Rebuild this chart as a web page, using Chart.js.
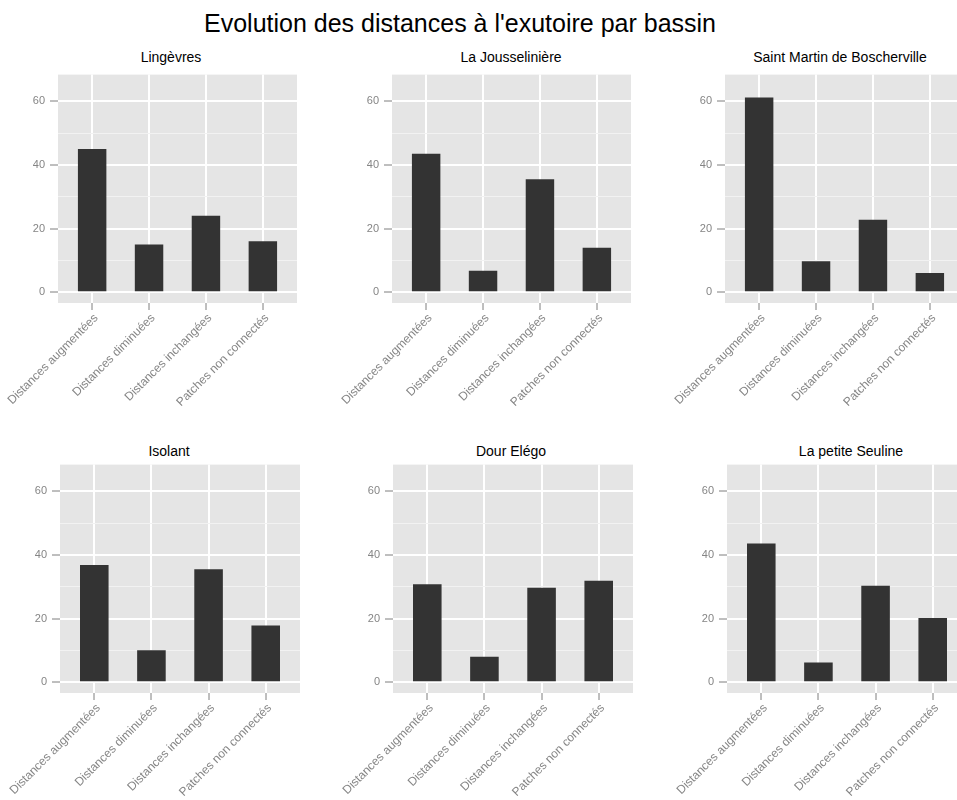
<!DOCTYPE html>
<html>
<head>
<meta charset="utf-8">
<script src="https://cdn.jsdelivr.net/npm/chart.js@4/dist/chart.umd.min.js"></script>
<style>
    body { margin: 0; width: 957px; height: 800px; overflow: hidden; background: #fff; position: relative; font-family: "Liberation Sans", Arial, sans-serif; }
    .main-title { position: absolute; top: 8px; left: 460px; transform: translateX(-50%); font-size: 25px; line-height: 30px; white-space: nowrap; color: #000; }
    .panel-title { position: absolute; transform: translateX(-50%); font-size: 14px; line-height: 16px; white-space: nowrap; color: #000; }
    canvas { position: absolute; }
</style>
</head>
<body>
<div class="main-title">Evolution des distances à l'exutoire par bassin</div>
<script>
// --- DATA ---
const categories = ['Distances augmentées', 'Distances diminuées', 'Distances inchangées', 'Patches non connectés'];
const basins = ['Lingèvres', 'La Jousselinière', 'Saint Martin de Boscherville', 'Isolant', 'Dour Elégo', 'La petite Seuline'];

const lingevres = [45, 15, 24, 16];
const jousseliniere = [43.5, 6.7, 35.5, 14];
const saintMartin = [61.2, 9.7, 22.8, 6];
const isolant = [36.8, 10, 35.5, 17.8];
const dourElego = [30.8, 8, 29.7, 31.9];
const petiteSeuline = [43.6, 6.2, 30.3, 20.2];

const yMajor = [0, 20, 40, 60];
const yMinor = [10, 30, 50];

const seriesList = [lingevres, jousseliniere, saintMartin, isolant, dourElego, petiteSeuline];

// --- LAYOUT (plot area of each panel, panel title centre) ---
const panels = [
    { left: 58,  top: 73,  width: 239, height: 230, titleX: 171, titleY: 57 },
    { left: 392, top: 73,  width: 239, height: 230, titleX: 511, titleY: 57 },
    { left: 725, top: 73,  width: 239, height: 230, titleX: 840, titleY: 57 },
    { left: 60,  top: 463, width: 240, height: 230, titleX: 169, titleY: 451 },
    { left: 393, top: 463, width: 240, height: 230, titleX: 511, titleY: 451 },
    { left: 727, top: 463, width: 240, height: 230, titleX: 851, titleY: 451 }
];

// y axis kept wide so the rotated first label never pushes the plot area right
const Y_AXIS_W = 72;
const X_AXIS_H = 115;
const PAD_TOP = 10;
const FONT = '"Liberation Sans", Arial, sans-serif';

// grey panel behind the grid
const panelBg = {
    id: 'panelBg',
    beforeDraw(chart) {
        const { ctx, chartArea: a } = chart;
        ctx.save();
        ctx.fillStyle = '#E5E5E5';
        ctx.fillRect(a.left, a.top, a.right - a.left, a.bottom - a.top);
        ctx.restore();
    }
};

function makePanel(i) {
    const p = panels[i];

    const title = document.createElement('div');
    title.className = 'panel-title';
    title.style.left = p.titleX + 'px';
    title.style.top = (p.titleY - 8) + 'px';
    title.textContent = basins[i];
    document.body.appendChild(title);

    const canvas = document.createElement('canvas');
    canvas.width = Y_AXIS_W + p.width;
    canvas.height = PAD_TOP + p.height + X_AXIS_H;
    canvas.style.left = (p.left - Y_AXIS_W) + 'px';
    canvas.style.top = (p.top - PAD_TOP) + 'px';
    document.body.appendChild(canvas);

    new Chart(canvas, {
        type: 'bar',
        data: {
            datasets: [{
                data: seriesList[i].map((v, k) => ({ x: k, y: v })),
                backgroundColor: '#333333',
                borderWidth: 0,
                categoryPercentage: 1,
                barPercentage: 0.5
            }]
        },
        options: {
            responsive: false,
            animation: false,
            events: [],
            layout: { padding: { top: PAD_TOP, left: 0, right: 0, bottom: 0 } },
            plugins: { legend: { display: false }, tooltip: { enabled: false }, title: { display: false } },
            scales: {
                x: {
                    type: 'linear',
                    offset: false,
                    min: -0.6,
                    max: categories.length - 0.4,
                    afterBuildTicks: axis => { axis.ticks = categories.map((c, k) => ({ value: k })); },
                    afterFit: axis => { axis.height = X_AXIS_H; },
                    border: { display: false },
                    grid: { offset: false, color: '#FFFFFF', lineWidth: 2, tickLength: 7, tickColor: '#7F7F7F', tickWidth: 1 },
                    ticks: {
                        autoSkip: false,
                        minRotation: 45,
                        maxRotation: 45,
                        padding: 1,
                        labelOffset: 4,
                        color: '#858585',
                        font: { family: FONT, size: 12 },
                        callback: v => categories[v]
                    }
                },
                y: {
                    min: -3.4,
                    max: 68.4,
                    afterBuildTicks: axis => {
                        axis.ticks = yMajor.concat(yMinor).sort((a, b) => a - b).map(v => ({ value: v }));
                    },
                    afterFit: axis => { axis.width = Y_AXIS_W; },
                    border: { display: false },
                    grid: {
                        color: ctx => yMajor.includes(ctx.tick.value) ? '#FFFFFF' : '#F2F2F2',
                        lineWidth: ctx => yMajor.includes(ctx.tick.value) ? 2 : 1,
                        tickLength: 8,
                        tickWidth: 1,
                        tickColor: ctx => yMajor.includes(ctx.tick.value) ? '#7F7F7F' : 'rgba(0,0,0,0)'
                    },
                    ticks: {
                        padding: 5,
                        color: '#858585',
                        font: { family: FONT, size: 11 },
                        callback: v => yMajor.includes(v) ? String(v) : ''
                    }
                }
            }
        },
        plugins: [panelBg]
    });
}

document.addEventListener('DOMContentLoaded', () => {
    panels.forEach((p, i) => makePanel(i));
});
</script>
</body>
</html>
